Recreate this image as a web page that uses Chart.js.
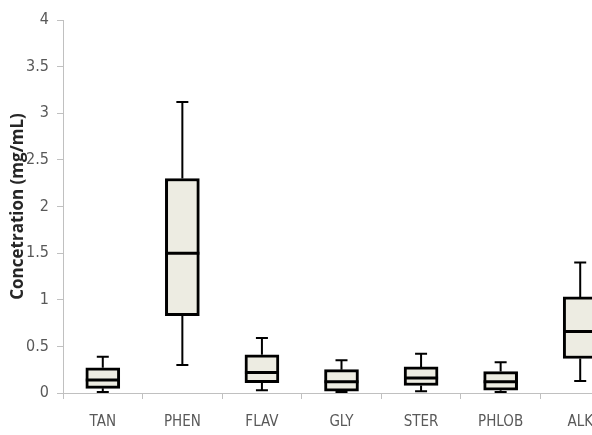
<!DOCTYPE html>
<html>
<head>
<meta charset="utf-8">
<script src="https://cdn.jsdelivr.net/npm/chart.js@4"></script>
<style>
  html, body { margin: 0; padding: 0; background: #fff; overflow: hidden; }
  #wrap { width: 592px; height: 435px; overflow: hidden; }
</style>
</head>
<body>
<div id="wrap"><canvas id="box" width="620" height="435"></canvas></div>
<script>
// values (mg/mL)
const categories = ["TAN", "PHEN", "FLAV", "GLY", "STER", "PHLOB", "ALK"];
const mins    = [0.01, 0.30, 0.03, 0.01, 0.02, 0.01, 0.13];
const q1s     = [0.05, 0.83, 0.11, 0.02, 0.08, 0.03, 0.37];
const medians = [0.14, 1.50, 0.22, 0.12, 0.16, 0.12, 0.66];
const q3s     = [0.27, 2.30, 0.41, 0.25, 0.28, 0.23, 1.03];
const maxs    = [0.39, 3.12, 0.59, 0.35, 0.42, 0.33, 1.40];
const yTicks  = [0, 0.5, 1, 1.5, 2, 2.5, 3, 3.5, 4];

const narrow = "'Liberation Sans Narrow', 'DejaVu Sans Condensed', sans-serif";

// whiskers + median on top of the floating bars
const boxParts = {
  id: "boxParts",
  beforeDatasetsDraw: (chart) => {
    const ctx = chart.ctx;
    const y = chart.scales.y;
    const meta = chart.getDatasetMeta(0);
    ctx.save();
    ctx.strokeStyle = "#000";
    ctx.lineWidth = 2;
    meta.data.forEach((bar, i) => {
      const x = bar.x;
      const cap = 6;
      ctx.beginPath();
      ctx.moveTo(x, y.getPixelForValue(q3s[i]));
      ctx.lineTo(x, y.getPixelForValue(maxs[i]));
      ctx.moveTo(x - cap, y.getPixelForValue(maxs[i]));
      ctx.lineTo(x + cap, y.getPixelForValue(maxs[i]));
      ctx.moveTo(x, y.getPixelForValue(q1s[i]));
      ctx.lineTo(x, y.getPixelForValue(mins[i]));
      ctx.moveTo(x - cap, y.getPixelForValue(mins[i]));
      ctx.lineTo(x + cap, y.getPixelForValue(mins[i]));
      ctx.stroke();
    });
    ctx.restore();
  },
  afterDatasetsDraw: (chart) => {
    const ctx = chart.ctx;
    const y = chart.scales.y;
    const meta = chart.getDatasetMeta(0);
    ctx.save();
    ctx.strokeStyle = "#000";
    ctx.lineWidth = 3;
    meta.data.forEach((bar, i) => {
      const py = y.getPixelForValue(medians[i]);
      ctx.beginPath();
      ctx.moveTo(bar.x - bar.width / 2, py);
      ctx.lineTo(bar.x + bar.width / 2, py);
      ctx.stroke();
    });
    ctx.restore();
  },
};

new Chart(document.getElementById("box").getContext("2d"), {
  type: "bar",
  data: {
    labels: categories,
    datasets: [
      {
        data: q1s.map((v, i) => [v, q3s[i]]),
        backgroundColor: "#edece2",
        borderColor: "#000",
        borderWidth: 3,
        borderSkipped: false,
        barThickness: 34,
      },
    ],
  },
  plugins: [boxParts],
  options: {
    responsive: false,
    animation: false,
    devicePixelRatio: 1,
    layout: { padding: { top: 20, right: 0, left: 0, bottom: 0 } },
    plugins: {
      legend: { display: false },
      tooltip: { enabled: false },
    },
    scales: {
      x: {
        offset: true,
        grid: {
          offset: true,
          drawOnChartArea: false,
          tickLength: 6,
          color: "#c0c0c0",
        },
        border: { color: "#c0c0c0", width: 1 },
        ticks: {
          color: "#595959",
          padding: 14,
          font: { family: narrow, size: 15 },
        },
        afterFit: (scale) => {
          scale.height = 42;
        },
      },
      y: {
        min: 0,
        max: 4,
        afterBuildTicks: (scale) => {
          scale.ticks = yTicks.map((v) => ({ value: v }));
        },
        grid: {
          drawOnChartArea: false,
          tickLength: 6,
          color: "#c0c0c0",
        },
        border: { color: "#c0c0c0", width: 1 },
        ticks: {
          color: "#595959",
          padding: 8,
          font: { family: narrow, size: 16 },
          callback: (value) => String(value),
        },
        title: {
          display: true,
          text: "Concetration (mg/mL)",
          color: "#262626",
          font: { family: "'Open Sans', sans-serif", size: 17, weight: "bold" },
          padding: { top: 8, bottom: 0 },
        },
        afterFit: (scale) => {
          scale.width = 63;
        },
      },
    },
  },
});
</script>
</body>
</html>
